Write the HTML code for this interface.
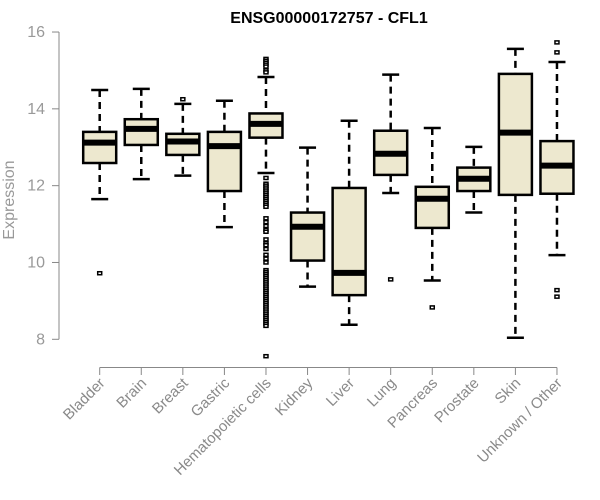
<!DOCTYPE html>
<html><head><meta charset="utf-8"><style>
body{margin:0;background:#fff;}
svg{display:block;font-family:"Liberation Sans",sans-serif;}
</style></head><body>
<svg id="chart" width="600" height="500">
<text x="329" y="23" text-anchor="middle" font-weight="bold" font-size="16" fill="#000">ENSG00000172757 - CFL1</text>
<text transform="translate(14,200) rotate(-90)" text-anchor="middle" font-size="16" fill="#999">Expression</text>
</svg>
<script>
const categories=["Bladder","Brain","Breast","Gastric","Hematopoietic cells","Kidney","Liver","Lung","Pancreas","Prostate","Skin","Unknown / Other"];
const whiskerLow=[11.65,12.17,12.26,10.92,12.33,9.37,8.38,11.81,9.53,11.30,8.04,10.19];
const q1=[12.59,13.06,12.80,11.86,13.25,10.05,9.15,12.28,10.90,11.86,11.76,11.79];
const medians=[13.12,13.48,13.15,13.03,13.61,10.93,9.73,12.83,11.66,12.18,13.38,12.52];
const q3=[13.40,13.73,13.35,13.40,13.88,11.30,11.94,13.43,11.97,12.47,14.91,13.16];
const whiskerHigh=[14.49,14.52,14.13,14.21,14.83,12.99,13.69,14.89,13.50,13.01,15.56,15.22];
const outliers=[[9.72],[],[14.25],[],
[15.3,15.25,15.2,15.15,15.1,15.0,14.95,12.2,12.05,12.0,11.95,11.9,11.85,11.8,11.75,11.7,11.65,11.6,11.55,11.5,11.45,11.15,11.05,10.95,10.85,10.8,10.6,10.5,10.45,10.35,10.2,10.1,10.0,9.8,9.75,9.7,9.65,9.6,9.55,9.5,9.45,9.4,9.35,9.3,9.25,9.2,9.15,9.1,9.05,9.0,8.95,8.9,8.85,8.8,8.75,8.7,8.65,8.6,8.55,8.5,8.45,8.4,8.35,7.56],
[],[],[9.56],[8.83],[],[],[15.73,15.47,9.28,9.11]];
const yTicks=[8,10,12,14,16];
const NS="http://www.w3.org/2000/svg";
const svg=document.getElementById('chart');
const yScale=v=>339.3-(v-8)*38.41;
const xScale=i=>99.7+i*41.57;
function mk(tag,attrs,parent){const e=document.createElementNS(NS,tag);for(const k in attrs)e.setAttribute(k,attrs[k]);(parent||svg).appendChild(e);return e;}
const ya=mk('g',{});


mk('line',{x1:59,x2:59,y1:yScale(16),y2:yScale(8),stroke:'#888','stroke-width':1},ya);
yTicks.forEach(t=>{
 mk('line',{x1:52,x2:59,y1:yScale(t),y2:yScale(t),stroke:'#888'},ya);
 const tx=mk('text',{x:45,y:yScale(t)+5,'text-anchor':'end','font-size':16,fill:'#999'},ya);
 
 
 tx.textContent=t;
});
const xa=mk('g',{});


mk('line',{x1:xScale(0),x2:xScale(categories.length-1),y1:367.5,y2:367.5,stroke:'#888'},xa);
categories.forEach((c,i)=>{
 const x=xScale(i);
 mk('line',{x1:x,x2:x,y1:367.5,y2:375,stroke:'#888'},xa);
 const tx=mk('text',{x:0,y:0,'text-anchor':'end','font-size':15,fill:'#8a8a8a',transform:`translate(${x+6},${384}) rotate(-45)`},xa);
 
 
 tx.textContent=c;
});
categories.forEach((c,i)=>{
 const x=xScale(i),hw=16.5,cw=8.5;
 const g=mk('g',{});
 
 
 mk('line',{x1:x,x2:x,y1:yScale(whiskerHigh[i]),y2:yScale(q3[i]),stroke:'#000','stroke-width':2.5,'stroke-dasharray':'7,5'},g);
 mk('line',{x1:x,x2:x,y1:yScale(q1[i]),y2:yScale(whiskerLow[i]),stroke:'#000','stroke-width':2.5,'stroke-dasharray':'7,5'},g);
 mk('line',{x1:x-cw,x2:x+cw,y1:yScale(whiskerHigh[i]),y2:yScale(whiskerHigh[i]),stroke:'#000','stroke-width':2.5},g);
 mk('line',{x1:x-cw,x2:x+cw,y1:yScale(whiskerLow[i]),y2:yScale(whiskerLow[i]),stroke:'#000','stroke-width':2.5},g);
 mk('rect',{x:x-hw,y:yScale(q3[i]),width:2*hw,height:yScale(q1[i])-yScale(q3[i]),fill:'#ede8cf',stroke:'#000','stroke-width':2.5},g);
 mk('line',{x1:x-hw,x2:x+hw,y1:yScale(medians[i]),y2:yScale(medians[i]),stroke:'#000','stroke-width':6},g);
 outliers[i].forEach(v=>{
  const p=mk('rect',{x:x-2,y:yScale(v)-1.5,width:4,height:3,fill:'#fff',stroke:'#000','stroke-width':1.5},g);
  
  
 });
});
</script>
</body></html>
